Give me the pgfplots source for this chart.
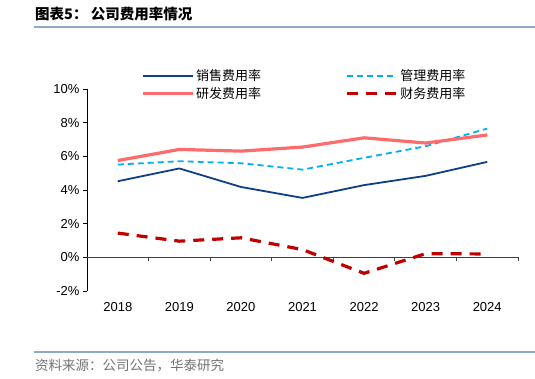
\documentclass[border=0pt]{standalone}
\usepackage{fontspec}
\setmainfont{Liberation Sans}
\newfontfamily\cjk{Noto Sans CJK SC}
\usepackage{pgfplots}
\pgfplotsset{compat=1.18}
\definecolor{sales}{HTML}{0E3F87}
\definecolor{admin}{HTML}{00B0F0}
\definecolor{rnd}{HTML}{FF6B6B}
\definecolor{fin}{HTML}{C00000}
\definecolor{rulec}{HTML}{8EA9CC}
\begin{document}
\begin{tikzpicture}[x=1bp,y=1bp]
\useasboundingbox (0,0) rectangle (535,378);
\node[anchor=west, inner sep=0, font=\cjk\bfseries\fontsize{14.5bp}{17bp}\selectfont] at (35,364) {图表5：\ 公司费用率情况};
\draw[rulec, line width=1.2bp] (34,351) -- (535,351);
\draw[rulec, line width=1.2bp] (34,26) -- (535,26);
\node[anchor=west, inner sep=0, font=\cjk\fontsize{13.5bp}{15bp}\selectfont, text=black!55] at (35,13) {资料来源：公司公告，华泰研究};
\begin{axis}[
  at={(117.79bp,120.67bp)}, anchor=origin, scale only axis, width=431bp, height=202bp,
  xmin=-0.5, xmax=6.5, ymin=-2, ymax=10,
  axis lines*=left,
  x axis line style={draw=none},
  xtick={0,...,6}, xticklabels={2018,2019,2020,2021,2022,2023,2024},
  x tick style={draw=none},
  xticklabel style={yshift=-4bp},
  ytick={-2,0,...,10}, yticklabel={\pgfmathprintnumber{\tick}\%},
  y axis line style={black, line width=0.8bp},
  y tick style={black, line width=0.8bp},
  tick align=outside, major tick length=4bp,
  ticklabel style={font=\fontsize{13bp}{15bp}\selectfont},
  /pgf/number format/assume math mode=true,
  clip=false,
  legend columns=2,
  legend style={draw=none, fill=none, at={(0.118,1.115)}, anchor=north west,
    font=\cjk\fontsize{13bp}{15bp}\selectfont,
    /tikz/every even column/.append style={column sep=82bp}, row sep=1bp},
  legend image code/.code={\draw[#1] (0bp,0bp) -- (50bp,0bp);},
]
\draw[black!75, line width=0.8bp] (axis cs:-0.5,0) -- (axis cs:6.5,0);
\pgfplotsinvokeforeach{0.5,1.5,2.5,3.5,4.5,5.5,6.5}{\draw[black!75, line width=0.8bp] (axis cs:#1,0) -- ++(0pt,-4bp);}
\addplot[sales, line width=1.8bp] coordinates {(0,4.52)(1,5.28)(2,4.18)(3,3.53)(4,4.29)(5,4.84)(6,5.67)};
\addlegendentry{销售费用率}
\addplot[admin, line width=1.8bp, dash pattern=on 6bp off 4bp] coordinates {(0,5.51)(1,5.71)(2,5.59)(3,5.21)(4,5.91)(5,6.60)(6,7.65)};
\addlegendentry{管理费用率}
\addplot[rnd, line width=3.2bp] coordinates {(0,5.75)(1,6.41)(2,6.31)(3,6.55)(4,7.10)(5,6.79)(6,7.27)};
\addlegendentry{研发费用率}
\addplot[fin, line width=3.2bp, dash pattern=on 11bp off 8bp] coordinates {(0,1.44)(1,0.96)(2,1.16)(3,0.46)(4,-0.95)(5,0.22)(6,0.20)};
\addlegendentry{财务费用率}
\end{axis}
\end{tikzpicture}
\end{document}
